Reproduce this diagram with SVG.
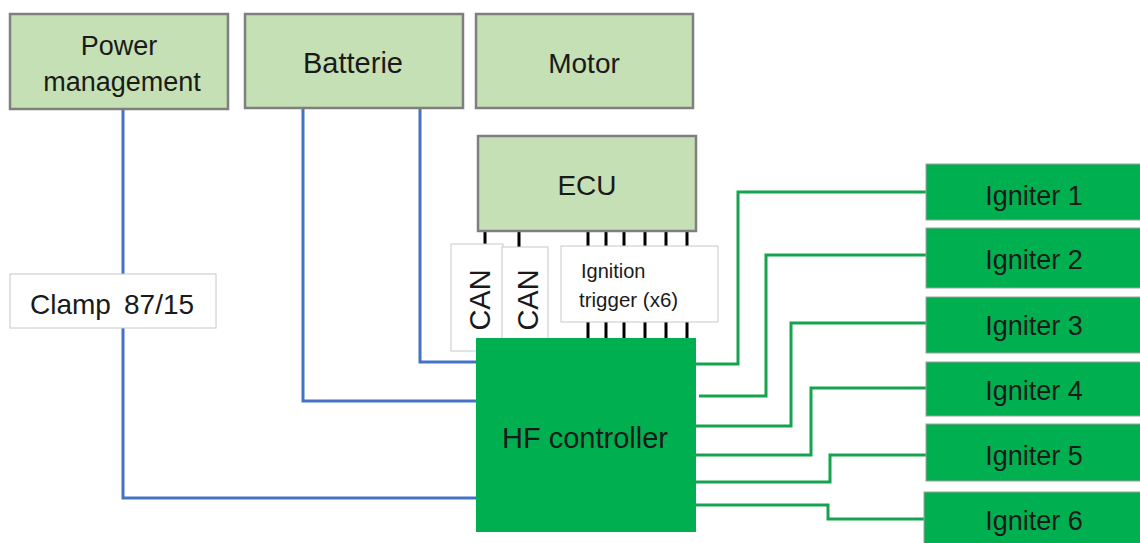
<svg xmlns="http://www.w3.org/2000/svg" width="1140" height="543" viewBox="0 0 1140 543">
<style>
.lt{fill:#c5e0b4;stroke:#7f7f7f;stroke-width:2.5}
.dk{fill:#00b050;stroke:#a0a0a0;stroke-width:1}
.wb{fill:#fff;stroke:#c8c8c8;stroke-width:1}
.t{font-family:"Liberation Sans",Arial,sans-serif;fill:#1a1a1a;text-anchor:middle;font-size:28px}
.b{fill:none;stroke:#4472c4;stroke-width:3}
.g{fill:none;stroke:#16a34f;stroke-width:3}
.k{stroke:#000;stroke-width:3}
</style>
<rect width="1140" height="543" fill="#fff"/>
<g id="connectors">
<polyline class="b" points="123,109 123,498 476,498"/>
<polyline class="b" points="303,108 303,401 476,401"/>
<polyline class="b" points="420,108 420,362 476,362"/>
<polyline class="g" points="696,364 738,364 738,192 927,192"/>
<polyline class="g" points="699,396 766,396 766,255 927,255"/>
<polyline class="g" points="696,426 791,426 791,323 927,323"/>
<polyline class="g" points="696,455 811,455 811,388 927,388"/>
<polyline class="g" points="696,482 830,482 830,455 927,455"/>
<polyline class="g" points="696,505 828,505 828,519 927,519"/>
<g class="k">
<line x1="485" y1="231" x2="485" y2="246"/>
<line x1="519" y1="231" x2="519" y2="248"/>
<line x1="588" y1="231" x2="588" y2="246"/>
<line x1="606" y1="231" x2="606" y2="246"/>
<line x1="624" y1="231" x2="624" y2="246"/>
<line x1="645" y1="231" x2="645" y2="246"/>
<line x1="666" y1="231" x2="666" y2="246"/>
<line x1="687" y1="231" x2="687" y2="246"/>
<line x1="588" y1="322" x2="588" y2="338"/>
<line x1="606" y1="322" x2="606" y2="338"/>
<line x1="624" y1="322" x2="624" y2="338"/>
<line x1="645" y1="322" x2="645" y2="338"/>
<line x1="666" y1="322" x2="666" y2="338"/>
<line x1="687" y1="322" x2="687" y2="338"/>
</g>
</g>
<g id="power">
<rect class="lt" x="10" y="14" width="218" height="95"/>
<text class="t" x="119" y="55" style="font-size:27px">Power</text>
<text class="t" x="122" y="91" style="font-size:27px">management</text>
</g>
<g id="batterie">
<rect class="lt" x="245" y="14" width="218" height="94"/>
<text class="t" x="353" y="73" style="font-size:29px">Batterie</text>
</g>
<g id="motor">
<rect class="lt" x="476" y="14" width="217" height="94"/>
<text class="t" x="584" y="73">Motor</text>
</g>
<g id="ecu">
<rect class="lt" x="478" y="136" width="218" height="95"/>
<text class="t" x="587" y="195">ECU</text>
</g>
<g id="clamp">
<rect class="wb" x="10" y="274" width="206" height="54"/>
<text class="t" x="30" y="314" style="text-anchor:start">Clamp</text>
<text class="t" x="124" y="314" style="text-anchor:start">87/15</text>
</g>
<g id="can1">
<rect class="wb" x="451" y="244" width="52" height="107"/>
<text class="t" x="0" y="0" style="font-size:29px" transform="translate(490,300) rotate(-90)">CAN</text>
</g>
<g id="can2">
<rect class="wb" x="502" y="247" width="46" height="100"/>
<text class="t" x="0" y="0" style="font-size:29px" transform="translate(538,300) rotate(-90)">CAN</text>
</g>
<g id="trigger">
<rect class="wb" x="561" y="246" width="157" height="76"/>
<text class="t" x="581" y="278" style="font-size:20px;text-anchor:start">Ignition</text>
<text class="t" x="579" y="307" style="font-size:20.5px;text-anchor:start">trigger (x6)</text>
</g>
<g id="hf">
<rect x="476" y="338" width="220" height="194" fill="#00b050"/>
<text class="t" x="585" y="448" style="font-size:29px">HF controller</text>
</g>
<g id="igniter1"><rect class="dk" x="926" y="164" width="220" height="56"/><text class="t" x="1034" y="205" style="font-size:27px">Igniter 1</text></g>
<g id="igniter2"><rect class="dk" x="926" y="228" width="220" height="60"/><text class="t" x="1034" y="269" style="font-size:27px">Igniter 2</text></g>
<g id="igniter3"><rect class="dk" x="926" y="297" width="220" height="56"/><text class="t" x="1034" y="335" style="font-size:27px">Igniter 3</text></g>
<g id="igniter4"><rect class="dk" x="926" y="362" width="220" height="54"/><text class="t" x="1034" y="400" style="font-size:27px">Igniter 4</text></g>
<g id="igniter5"><rect class="dk" x="926" y="424" width="220" height="57"/><text class="t" x="1034" y="465" style="font-size:27px">Igniter 5</text></g>
<g id="igniter6"><rect class="dk" x="924" y="492" width="222" height="60"/><text class="t" x="1034" y="530" style="font-size:27px">Igniter 6</text></g>
</svg>
